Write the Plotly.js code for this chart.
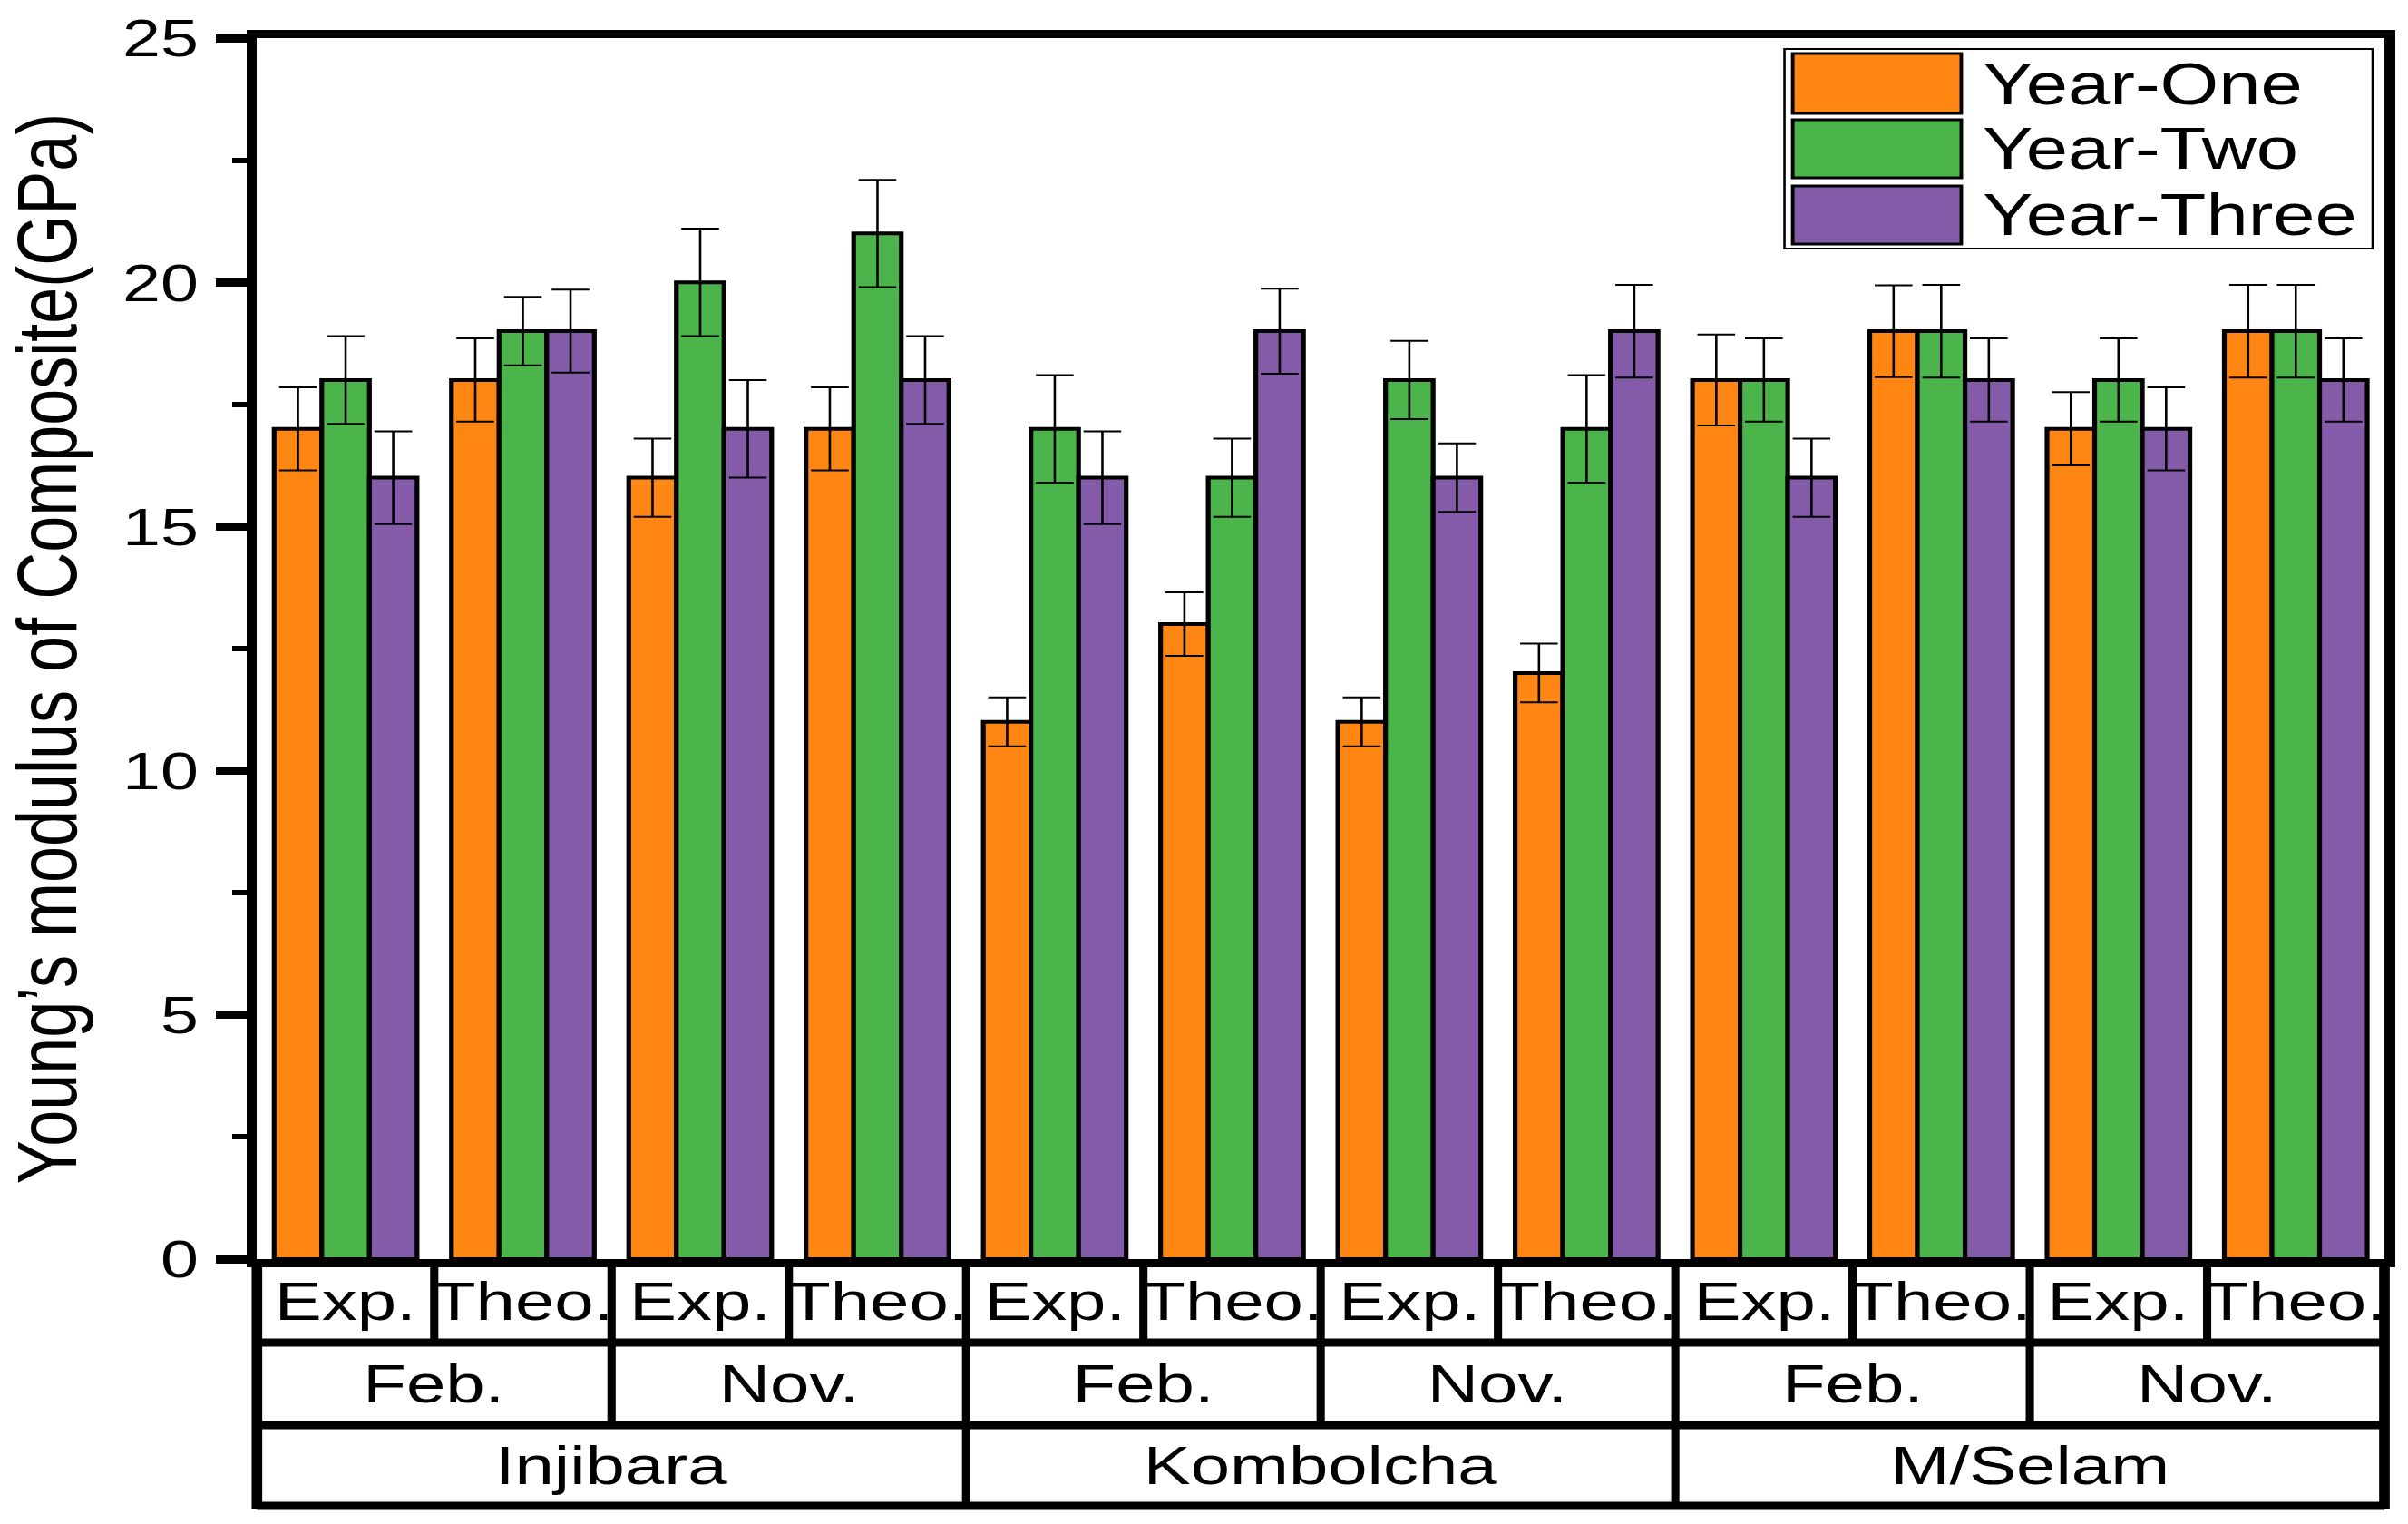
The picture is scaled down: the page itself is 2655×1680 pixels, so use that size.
<!DOCTYPE html>
<html><head><meta charset="utf-8">
<script src="https://cdn.plot.ly/plotly-3.0.1.min.js"></script>
<style>
html,body{margin:0;padding:0;background:#fff;overflow:hidden;}
#wrap{width:2655px;height:1680px;overflow:hidden;}
#chart{width:2043px;height:1680px;transform:scaleX(1.29956);transform-origin:0 0;}
</style></head>
<body><div id="wrap"><div id="chart"></div></div>
<script>
// ---- data ----
const sites = ['Injibara', 'Kombolcha', 'M/Selam'];
const months = ['Feb.', 'Nov.'];
const methods = ['Exp.', 'Theo.'];
const seriesNames = ['Year-One', 'Year-Two', 'Year-Three'];
const yearOne   = [17, 18, 16, 17, 11, 13, 11, 12, 18, 19, 17, 19];
const yearTwo   = [18, 19, 20, 21, 17, 16, 18, 17, 18, 19, 18, 19];
const yearThree = [16, 19, 17, 18, 16, 19, 16, 19, 16, 18, 17, 18];
const errOne    = [0.85, 0.85, 0.8, 0.85, 0.5, 0.65, 0.5, 0.6, 0.93, 0.94, 0.75, 0.95];
const errTwo    = [0.9, 0.7, 1.1, 1.1, 1.1, 0.8, 0.8, 1.1, 0.85, 0.95, 0.85, 0.95];
const errThree  = [0.95, 0.85, 1.0, 0.9, 0.95, 0.87, 0.7, 0.95, 0.8, 0.85, 0.85, 0.85];
const yTicks = [0, 5, 10, 15, 20, 25];
const yTitle = 'Young\u2019s modulus of Composite(GPa)';

// ---- styling ----
const colors = ['#FF8612', '#4BB44A', '#835BA9'];
const FONT = 'Liberation Sans, Arial, sans-serif';

// categories (site > month > method)
const cats = [];
sites.forEach(s => months.forEach(m => methods.forEach(t => cats.push(s + ' ' + m + ' ' + t))));
const N = cats.length;

const values = [yearOne, yearTwo, yearThree];
const errs = [errOne, errTwo, errThree];
const traces = values.map((v, k) => ({
  type: 'bar', name: seriesNames[k], x: cats, y: v,
  marker: {color: colors[k], line: {color: '#000', width: 4}},
  error_y: {type: 'data', array: errs[k], visible: true, color: '#000', thickness: 2, width: 16},
  showlegend: false
}));

// geometry helpers (paper coords)
const L = 218, R = 20, T = 42, B = 292, W = 2043, H = 1680;
const plotW = W - L - R, plotH = H - T - B;
const py = p => (H - B - p) / plotH;      // pixel y -> paper y
const px = u => (u - L) / plotW;          // pixel x -> paper x
const bx = k => k / N;                    // category boundary k -> paper x

const shapes = [], annotations = [];
const lineCol = '#000', lw = 9;
const yR1 = py(1480), yR2 = py(1571), yR3 = py(1660);
// horizontal table lines
[yR1, yR2, yR3].forEach(y => shapes.push({type: 'line', xref: 'paper', yref: 'paper', x0: 0, x1: 1, y0: y, y1: y, line: {color: lineCol, width: lw}}));
// outer verticals
[0, N].forEach(k => shapes.push({type: 'line', xref: 'paper', yref: 'paper', x0: bx(k), x1: bx(k), y0: 0, y1: yR3 - 0.003, line: {color: lineCol, width: lw}}));
// row 1 verticals
for (let k = 1; k < N; k++) shapes.push({type: 'line', xref: 'paper', yref: 'paper', x0: bx(k), x1: bx(k), y0: 0, y1: yR1, line: {color: lineCol, width: 7}});
// row 2 verticals (every 2 categories)
for (let k = 2; k < N; k += 2) shapes.push({type: 'line', xref: 'paper', yref: 'paper', x0: bx(k), x1: bx(k), y0: yR1, y1: yR2, line: {color: lineCol, width: 7}});
// row 3 verticals (every 4 categories)
for (let k = 4; k < N; k += 4) shapes.push({type: 'line', xref: 'paper', yref: 'paper', x0: bx(k), x1: bx(k), y0: yR2, y1: yR3, line: {color: lineCol, width: 7}});

const tfont = {family: FONT, size: 60, color: '#000'};
// row texts
sites.forEach((s, si) => {
  annotations.push({xref: 'paper', yref: 'paper', x: (si * 4 + 2) / N, y: py(1615), text: s, showarrow: false, font: tfont, xanchor: 'center', yanchor: 'middle'});
  months.forEach((m, mi) => {
    const base = si * 4 + mi * 2;
    annotations.push({xref: 'paper', yref: 'paper', x: (base + 1) / N, y: py(1525), text: m, showarrow: false, font: tfont, xanchor: 'center', yanchor: 'middle'});
    methods.forEach((t, ti) => {
      annotations.push({xref: 'paper', yref: 'paper', x: (base + ti + 0.5) / N, y: py(1434), text: t, showarrow: false, font: tfont, xanchor: 'center', yanchor: 'middle'});
    });
  });
});

// custom legend
shapes.push({type: 'rect', xref: 'paper', yref: 'paper', x0: px(1514), x1: px(2013), y0: py(274), y1: py(54), line: {color: '#000', width: 2}, fillcolor: '#fff', layer: 'above'});
const rows = [[59, 125, 93], [132, 196, 164], [205, 269, 237]];
rows.forEach((r, k) => {
  shapes.push({type: 'rect', xref: 'paper', yref: 'paper', x0: px(1521), x1: px(1664), y0: py(r[1]), y1: py(r[0]), line: {color: '#000', width: 3}, fillcolor: colors[k], layer: 'above'});
  annotations.push({xref: 'paper', yref: 'paper', x: px(1680), y: py(r[2]), text: seriesNames[k], showarrow: false, xanchor: 'left', yanchor: 'middle', font: {family: FONT, size: 64, color: '#000'}});
});

const layout = {
  width: W, height: H,
  margin: {l: L, r: R, t: T, b: B, pad: 0},
  paper_bgcolor: '#fff', plot_bgcolor: '#fff',
  font: {family: FONT, color: '#000'},
  barmode: 'group', bargap: 0.194, bargroupgap: 0,
  showlegend: false,
  xaxis: {type: 'category', range: [-0.5, N - 0.5], showline: true, linecolor: '#000', linewidth: 9, mirror: true,
          showticklabels: false, ticks: '', showgrid: false, zeroline: false, fixedrange: true},
  yaxis: {range: [0, 25], tickvals: yTicks, ticktext: yTicks.map(String), ticks: 'outside', ticklen: 26, tickwidth: 9, tickcolor: '#000',
          ticklabelstandoff: 3,
          minor: {dtick: 2.5, tick0: 0, ticks: 'outside', ticklen: 12, tickwidth: 6, tickcolor: '#000', showgrid: false},
          tickfont: {family: FONT, size: 58, color: '#000'},
          showline: true, linecolor: '#000', linewidth: 9, mirror: true, showgrid: false, zeroline: false, fixedrange: true,
          title: {text: yTitle, font: {family: FONT, size: 72, color: '#000'}, standoff: 29}},
  shapes: shapes, annotations: annotations
};

Plotly.newPlot('chart', traces, layout, {displayModeBar: false, staticPlot: true});
</script>
</body></html>
